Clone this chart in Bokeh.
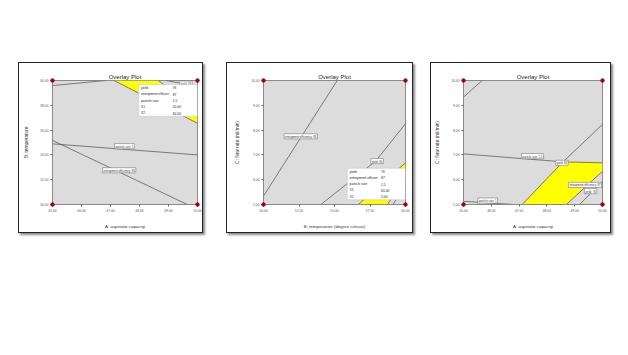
from bokeh.plotting import figure
from bokeh.models import Range1d, FixedTicker, PrintfTickFormatter, Label, BoxAnnotation, Spacer
from bokeh.layouts import row, column
from bokeh.embed import file_html
from bokeh.resources import INLINE
from bokeh.core.properties import value

FONT = "Liberation Sans"

# ---------------- data ----------------
# Panel 1: A (aspirator capacity) vs B (temperature)
p1_x_ticks = [45, 46, 47, 48, 49, 50]
p1_y_ticks = [50, 52, 54, 56, 58, 60]
p1_lines_x = [[45.0, 46.82], [47.12, 50.0], [48.65, 50.0], [48.9, 50.0], [45.0, 50.0], [45.0, 49.65]]
p1_lines_y = [[59.59, 60.0], [60.0, 56.55], [60.0, 57.6], [60.0, 59.55], [54.89, 54.0], [55.17, 50.0]]
p1_region_x = [47.12, 48.65, 50.0, 50.0]
p1_region_y = [60.0, 60.0, 57.6, 56.55]
p1_label_text = ["yield: 76", "particle size: 1", "entrapment efficiency: 83"]
p1_label_x = [49.6, 47.48, 47.3]
p1_label_y = [59.75, 54.7, 52.76]
p1_legend_names = ["yield:", "entrapment efficien", "particle size:", "X1", "X2"]
p1_legend_values = ["76", "87", "1.5", "50.00", "60.00"]

# Panel 2: B (temperature) vs C (flow rate)
p2_x_ticks = [50, 52.5, 55, 57.5, 60]
p2_y_ticks = [5, 6, 7, 8, 9, 10]
p2_lines_x = [[50.0, 55.19], [54.04, 57.9, 60.0], [56.68, 60.0], [58.73, 60.0], [59.1, 60.0]]
p2_lines_y = [[5.34, 10.0], [5.0, 6.75, 8.26], [5.0, 6.68], [5.0, 6.1], [5.0, 5.7]]
p2_region_x = [56.68, 58.73, 60.0, 60.0]
p2_region_y = [5.0, 5.0, 6.1, 6.68]
p2_label_text = ["entrapment efficiency: 83", "yield: 80"]
p2_label_x = [52.62, 58.0]
p2_label_y = [7.75, 6.75]
p2_legend_names = ["yield:", "entrapment efficien", "particle size:", "X1", "X2"]
p2_legend_values = ["76", "87", "1.5", "60.00", "5.00"]

# Panel 3: A (aspirator capacity) vs C (flow rate)
p3_x_ticks = [45, 46, 47, 48, 49, 50]
p3_y_ticks = [5, 6, 7, 8, 9, 10]
p3_lines_x = [[45.0, 45.67], [45.0, 48.58, 50.0], [47.11, 48.58, 50.0], [48.70, 50.0], [49.18, 50.0], [45.0, 46.8]]
p3_lines_y = [[9.33, 10.0], [7.04, 6.72, 6.68], [5.0, 6.72, 8.23], [5.0, 6.34], [5.0, 5.94], [5.13, 5.0]]
p3_region_x = [47.11, 48.58, 50.0, 50.0, 48.70]
p3_region_y = [5.0, 6.72, 6.68, 6.34, 5.0]
p3_label_text = ["particle size: 1.5", "yield: 80", "entrapment efficiency: 87", "yield: 76", "particle size: 1"]
p3_label_x = [47.48, 48.54, 49.37, 49.57, 45.87]
p3_label_y = [6.95, 6.68, 5.79, 5.54, 5.16]


def make_panel(w, h, borders, xr, yr, xticks, yticks, xlabel, ylabel,
               lines_x, lines_y, region_x, region_y,
               lab_text, lab_x, lab_y, legend=None):
    left, right, top, bottom = borders
    p = figure(width=w, height=h, x_range=Range1d(*xr), y_range=Range1d(*yr),
               output_backend="svg", toolbar_location=None,
               min_border_left=left, min_border_right=right,
               min_border_top=top, min_border_bottom=bottom,
               background_fill_color="#dcdcdc", border_fill_color="white",
               outline_line_color="#8a8a8a", title="Overlay Plot")
    p.styles = {"border": "1.5px solid #222222", "box-shadow": "2px 2px 2px #8a8a8a"}
    p.title.align = "center"
    p.title.text_font = FONT
    p.title.text_font_size = "6px"
    p.title.text_font_style = "normal"
    p.title.text_color = "#222222"
    p.title.standoff = 2
    p.grid.visible = False

    for ax, ticks in ((p.xaxis, xticks), (p.yaxis, yticks)):
        ax.ticker = FixedTicker(ticks=ticks)
        ax.formatter = PrintfTickFormatter(format="%.2f")
        ax.major_label_text_font = FONT
        ax.major_label_text_font_size = "3.3px"
        ax.major_label_text_color = "#555555"
        ax.major_tick_out = 2
        ax.major_tick_in = 0
        ax.minor_tick_out = 0
        ax.minor_tick_in = 0
        ax.major_label_standoff = 2
        ax.axis_line_color = "#8a8a8a"
        ax.major_tick_line_color = "#666666"
        ax.axis_label_text_font = FONT
        ax.axis_label_text_font_style = "normal"
        ax.axis_label_text_color = "#333333"
    p.xaxis.axis_label = xlabel
    p.yaxis.axis_label = ylabel
    p.xaxis.axis_label_text_font_size = "4.4px"
    p.yaxis.axis_label_text_font_size = "4.8px"
    p.xaxis.axis_label_standoff = 9
    p.yaxis.axis_label_standoff = 8

    p.patch(region_x, region_y, fill_color="#ffff00", line_color=None)
    p.multi_line(lines_x, lines_y, line_color="#5e5e5e", line_width=0.8)

    for t, x, y in zip(lab_text, lab_x, lab_y):
        p.add_layout(Label(x=x, y=y, text=t, text_font=FONT, text_font_size="2.8px",
                           text_align="center", text_baseline="middle", text_color="#333333",
                           background_fill_color="white", border_line_color="#777777",
                           border_line_width=0.6, padding=1))

    if legend is not None:
        names, values, (bx0, bx1, by0, by1) = legend
        p.add_layout(BoxAnnotation(left=bx0, right=bx1, bottom=by0, top=by1,
                                   fill_color="white", fill_alpha=1.0,
                                   line_color="#9a9af0", line_width=1))
        n = len(names)
        dy = (by1 - by0) / n
        ys = [by1 - (i + 0.5) * dy for i in range(n)]
        xn = [bx0 + 0.04 * (bx1 - bx0)] * n
        xv = [bx0 + 0.58 * (bx1 - bx0)] * n
        p.text(x=xn, y=ys, text=names, text_font=value(FONT), text_font_size="3.3px",
               text_baseline="middle", text_color="#222222", level="overlay")
        p.text(x=xv, y=ys, text=values, text_font=value(FONT), text_font_size="3.3px",
               text_baseline="middle", text_color="#222222", level="overlay")

    cx = [xr[0], xr[0], xr[1], xr[1]]
    cy = [yr[0], yr[1], yr[0], yr[1]]
    p.scatter(cx, cy, size=3.5, color="#a00000", level="overlay")
    return p


p1 = make_panel(185, 171, (33, 7, 17, 30), (45, 50), (50, 60), p1_x_ticks, p1_y_ticks,
                "A: aspirator capacity", "B: temperature",
                p1_lines_x, p1_lines_y, p1_region_x, p1_region_y,
                p1_label_text, p1_label_x, p1_label_y,
                legend=(p1_legend_names, p1_legend_values, (47.97, 50.0, 57.12, 59.67)))

p2 = make_panel(187, 171, (36, 9, 16, 30), (50, 60), (5, 10), p2_x_ticks, p2_y_ticks,
                "B: temperature (degree celsius)", "C: flow rate (ml/min)",
                p2_lines_x, p2_lines_y, p2_region_x, p2_region_y,
                p2_label_text, p2_label_x, p2_label_y,
                legend=(p2_legend_names, p2_legend_values, (55.9, 60.0, 5.19, 6.46)))

p3 = make_panel(181, 171, (32, 10, 16, 29), (45, 50), (5, 10), p3_x_ticks, p3_y_ticks,
                "A: aspirator capacity", "C: flow rate (ml/min)",
                p3_lines_x, p3_lines_y, p3_region_x, p3_region_y,
                p3_label_text, p3_label_x, p3_label_y)

layout = column(Spacer(height=62),
                row(Spacer(width=18), p1, Spacer(width=23), p2, Spacer(width=17), p3))

open("out.html", "w").write(file_html(layout, INLINE))
